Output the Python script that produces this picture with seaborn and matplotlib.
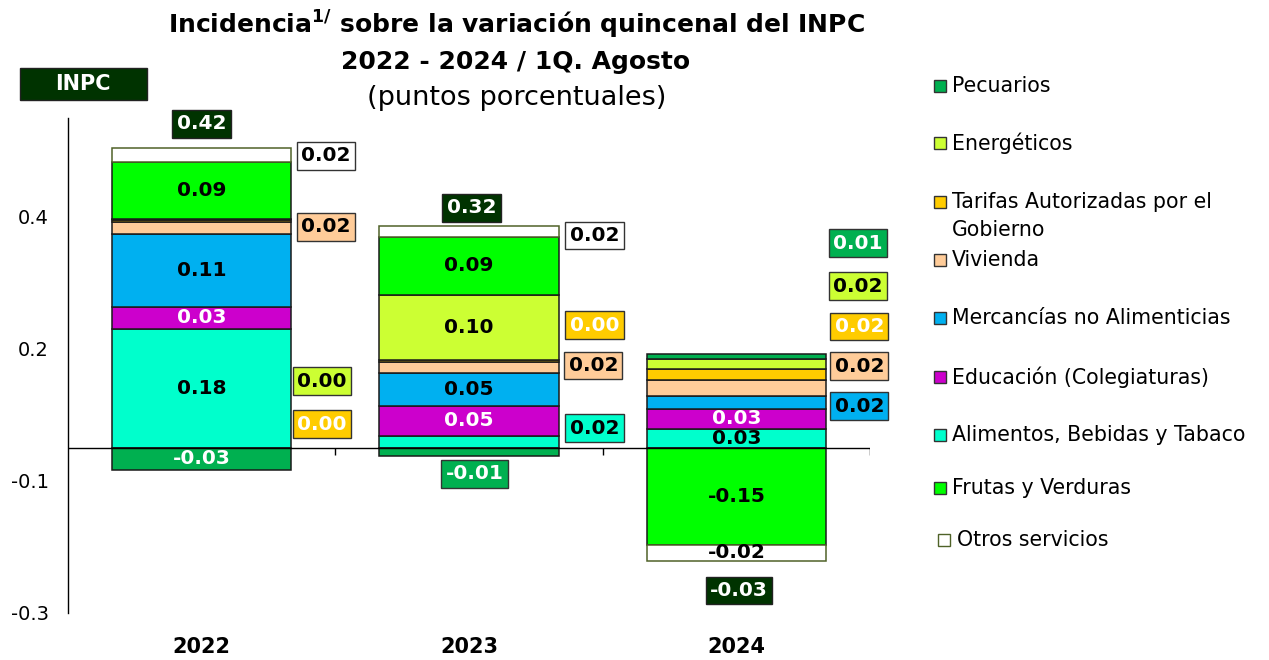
import numpy as np
import pandas as pd
import matplotlib
matplotlib.use("Agg")
import matplotlib.pyplot as plt
import seaborn as sns
from matplotlib.patches import Rectangle

# ---------------- data ----------------
years = ["2022", "2023", "2024"]

legend_names = ["Pecuarios", "Energéticos", "Tarifas Autorizadas por el\nGobierno",
                "Vivienda", "Mercancías no Alimenticias", "Educación (Colegiaturas)",
                "Alimentos, Bebidas y Tabaco", "Frutas y Verduras", "Otros servicios"]

pecuarios = [-0.033, -0.012, 0.008]
energeticos = [0.002, 0.098, 0.016]
tarifas = [0.002, 0.003, 0.016]
vivienda = [0.018, 0.017, 0.024]
mercancias = [0.112, 0.050, 0.020]
educacion = [0.032, 0.046, 0.030]
alimentos = [0.181, 0.018, 0.029]
frutas = [0.086, 0.088, -0.147]
otros = [0.021, 0.016, -0.024]

colors = {
    "pec": "#00B050", "ene": "#CCFF33", "tar": "#FFCC00", "viv": "#FFCC99",
    "mer": "#00B0F0", "edu": "#CC00CC", "ali": "#00FFCC", "fru": "#00FF00",
    "otr": "#FFFFFF",
}
dark = "#003300"

# stacking order (bottom -> top)
stack = [
    ("ali", alimentos), ("edu", educacion), ("mer", mercancias), ("viv", vivienda),
    ("tar", tarifas), ("ene", energeticos), ("pec", pecuarios), ("fru", frutas),
    ("otr", otros),
]
legend_keys = ["pec", "ene", "tar", "viv", "mer", "edu", "ali", "fru", "otr"]
white_text = {"edu", "pec", "tar"}

# label placement: side boxes (x, y in data units); all others inside segment
side_labels = {
    (0, "otr"): (0.465, 0.443), (0, "viv"): (0.465, 0.335),
    (0, "ene"): (0.45, 0.101), (0, "tar"): (0.45, 0.036),
    (1, "otr"): (1.47, 0.322), (1, "tar"): (1.47, 0.186),
    (1, "viv"): (1.465, 0.125), (1, "ali"): (1.47, 0.030),
    (1, "pec"): (1.02, -0.039),
    (2, "pec"): (2.455, 0.310), (2, "ene"): (2.455, 0.245),
    (2, "tar"): (2.46, 0.184), (2, "viv"): (2.46, 0.124),
    (2, "mer"): (2.46, 0.063),
}
total_pos = [(0.0, 0.491), (1.01, 0.364), (2.01, -0.216)]

# ---------------- figure ----------------
sns.set_theme(style="white")
plt.rcParams["font.family"] = ["DejaVu Sans"]
plt.rcParams["text.color"] = "black"
plt.rcParams["xtick.color"] = "black"
plt.rcParams["ytick.color"] = "black"
plt.rcParams["axes.labelcolor"] = "black"
plt.rcParams["mathtext.fontset"] = "custom"
plt.rcParams["mathtext.bf"] = "DejaVu Sans:bold"
plt.rcParams["mathtext.rm"] = "DejaVu Sans"

W, H = 1269, 660
fig = plt.figure(figsize=(W / 100, H / 100), dpi=100)
ax = fig.add_axes([68 / W, 47 / H, (870 - 68) / W, (613 - 118) / H])

pos = np.zeros(3)
neg = np.zeros(3)
label_fs = 14.5
for key, vals in stack:
    v = np.array(vals, dtype=float)
    bottom = np.where(v >= 0, pos, neg)
    d = pd.DataFrame({"year": years, "value": v})
    edge = "#4F6228" if key == "otr" else "#1a1a1a"
    sns.barplot(data=d, x="year", y="value", order=years, bottom=bottom,
                color=colors[key], saturation=1, edgecolor=edge, linewidth=1.1,
                width=0.67, errorbar=None, ax=ax)
    for i in range(3):
        txt = f"{v[i]:.2f}"
        tc = "white" if key in white_text else "black"
        if (i, key) in side_labels:
            x, y = side_labels[(i, key)]
            ax.text(x, y, txt, ha="center", va="center", fontsize=label_fs,
                    fontweight="bold", color=tc, zorder=5,
                    bbox=dict(boxstyle="square,pad=0.22", fc=colors[key], ec="#333333", lw=1))
        else:
            ax.text(i, bottom[i] + v[i] / 2, txt, ha="center", va="center",
                    fontsize=label_fs, fontweight="bold", color=tc, zorder=5)
    pos = np.where(v >= 0, pos + v, pos)
    neg = np.where(v < 0, neg + v, neg)

totals = pos + neg
for i, (x, y) in enumerate(total_pos):
    ax.text(x, y, f"{totals[i]:.2f}", ha="center", va="center", fontsize=label_fs,
            fontweight="bold", color="white", zorder=5,
            bbox=dict(boxstyle="square,pad=0.22", fc=dark, ec="#222222", lw=1))

# axes styling
ax.set_xlim(-0.5, 2.5)
ax.set_ylim(-0.25, 0.5)
ax.axhline(0, color="black", lw=1, zorder=3)
ax.vlines([0.5, 1.5, 2.5], -0.011, 0, color="black", lw=1, zorder=3)
for s in ["top", "right", "bottom"]:
    ax.spines[s].set_visible(False)
ax.spines["left"].set_color("black")
ax.spines["left"].set_linewidth(1)
ax.set_yticks([0.35, 0.15, -0.05, -0.25])
ax.set_yticklabels(["0.4", "0.2", "-0.1", "-0.3"])
ax.tick_params(axis="y", which="major", direction="out", length=6, width=1,
               color="black", labelcolor="black", labelsize=14, pad=8)
ax.tick_params(axis="x", length=0, pad=17, labelsize=15, labelcolor="black")
for lab in ax.get_xticklabels():
    lab.set_fontweight("bold")
ax.set_xlabel("")
ax.set_ylabel("")
ax.grid(False)

# title
fig.text(516 / W, 1 - 25 / H, r"Incidencia$^{\mathbf{1/}}$ sobre la variación quincenal del INPC",
         ha="center", va="center", fontsize=18, fontweight="bold")
fig.text(516 / W, 1 - 62 / H, "2022 - 2024 / 1Q. Agosto", ha="center", va="center",
         fontsize=18, fontweight="bold")
fig.text(517 / W, 1 - 98 / H, "(puntos porcentuales)", ha="center", va="center",
         fontsize=19.5)

# INPC box
fig.patches.append(Rectangle((20 / W, 1 - 100 / H), 127 / W, 32 / H,
                             transform=fig.transFigure, fc=dark, ec="#222222", lw=1))
fig.text(83 / W, 1 - 84 / H, "INPC", ha="center", va="center", fontsize=15,
         fontweight="bold", color="white")

# legend (manual)
leg_y = [86, 143, 202, 260, 318, 377, 435, 488, 540]
for key, name, y in zip(legend_keys, legend_names, leg_y):
    xm = 934 if key != "otr" else 938
    ec = "#4F6228" if key == "otr" else "#333333"
    fig.patches.append(Rectangle((xm / W, 1 - (y + 6) / H), 12 / W, 12 / H,
                                 transform=fig.transFigure, fc=colors[key], ec=ec, lw=1))
    xt = 952 if key != "otr" else 957
    parts = name.split("\n")
    fig.text(xt / W, 1 - y / H, parts[0], ha="left", va="center", fontsize=14.8)
    if len(parts) > 1:
        fig.text(xt / W, 1 - (y + 28) / H, parts[1], ha="left", va="center", fontsize=14.8)

fig.savefig("out.png", dpi=100)
